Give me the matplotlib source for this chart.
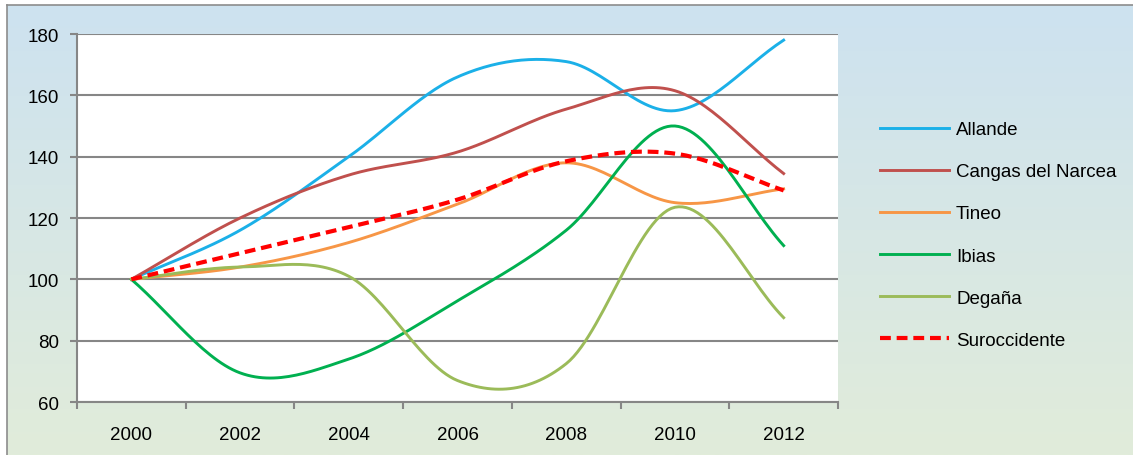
import numpy as np
import matplotlib
matplotlib.use("Agg")
import matplotlib.pyplot as plt
from matplotlib.lines import Line2D

years = ["2000", "2002", "2004", "2006", "2008", "2010", "2012"]
allande = [100, 116, 140, 166, 171, 155, 178]
cangas = [100, 120, 134, 141.5, 155.5, 161.5, 134.5]
tineo = [100, 104, 112, 124.5, 138, 125, 129.5]
ibias = [100, 69.5, 74, 93, 116, 150, 111]
degana = [100, 104, 101, 67, 72.5, 123.5, 87.5]
suroccidente = [100, 108.5, 117, 126, 138.5, 141, 129]

series = [
    ("Allande", allande, "#1BB0E8", "-"),
    ("Cangas del Narcea", cangas, "#C0504D", "-"),
    ("Tineo", tineo, "#F79646", "-"),
    ("Ibias", ibias, "#00B050", "-"),
    ("Degaña", degana, "#9BBB59", "-"),
    ("Suroccidente", suroccidente, "#FF0000", "--"),
]

def smooth(x, y, n=30):
    # Catmull-Rom style smoothing (like Excel's smoothed line)
    x = np.asarray(x, float); y = np.asarray(y, float)
    px = np.concatenate([[2*x[0]-x[1]], x, [2*x[-1]-x[-2]]])
    py = np.concatenate([[2*y[0]-y[1]], y, [2*y[-1]-y[-2]]])
    xs, ys = [], []
    t = np.linspace(0, 1, n)
    for i in range(1, len(px) - 2):
        p0, p1, p2, p3 = [np.array([px[j], py[j]]) for j in (i-1, i, i+1, i+2)]
        c1 = p1 + (p2 - p0) / 6.0
        c2 = p2 - (p3 - p1) / 6.0
        pts = ((1-t)**3)[:, None]*p1 + (3*(1-t)**2*t)[:, None]*c1 + (3*(1-t)*t**2)[:, None]*c2 + (t**3)[:, None]*p2
        xs.extend(pts[:, 0]); ys.extend(pts[:, 1])
    return np.array(xs), np.array(ys)

plt.rcParams['font.family'] = ['Liberation Sans', 'DejaVu Sans']

W, H = 1133, 456
fig = plt.figure(figsize=(W/100, H/100), dpi=100)

# background gradient panel with border
bg = fig.add_axes([7/W, 0, 1 - 7/W, 1 - 6/H])
grad = np.linspace(0, 1, 256)[:, None]
top = np.array([0xCD, 0xE2, 0xF0]) / 255
bot = np.array([0xE1, 0xEC, 0xDA]) / 255
img = top[None, None, :] * (1 - grad[:, :, None]) + bot[None, None, :] * grad[:, :, None]
bg.imshow(img, aspect='auto', extent=[0, 1, 0, 1])
bg.set_xlim(0, 1); bg.set_ylim(0, 1)
bg.set_xticks([]); bg.set_yticks([])
for s in ("top", "left"):
    bg.spines[s].set_color("#8C8C8C"); bg.spines[s].set_linewidth(1.2)
for s in ("bottom", "right"):
    bg.spines[s].set_visible(False)

ax = fig.add_axes([77/W, 1 - 403/H, (838-77)/W, (403-35)/H])
ax.set_facecolor("white")
xpos = np.arange(len(years))
for name, vals, color, ls in series:
    sx, sy = smooth(xpos, vals)
    if ls == "--":
        ax.plot(sx, sy, color=color, lw=3.0, dashes=(2.6, 1.4), label=name, solid_capstyle='butt')
    else:
        ax.plot(sx, sy, color=color, lw=2.1, label=name)

ax.set_xlim(-0.5, len(years) - 0.5)
ax.set_ylim(60, 180)
ax.set_yticks(np.arange(60, 181, 20))
ax.set_xticks(xpos)
ax.set_xticklabels(years)
ax.set_xticks(np.arange(-0.5, len(years), 1), minor=True)
ax.tick_params(axis='x', which='major', length=0, pad=17, labelsize=13.5)
ax.tick_params(axis='x', which='minor', length=5, width=1.5, color="#868686", direction='out')
ax.tick_params(axis='y', length=5, width=1.5, color="#868686", labelsize=13.5, pad=8)
ax.grid(axis='y', color="#868686", lw=1.5)
ax.set_axisbelow(True)
for s in ("top", "right"):
    ax.spines[s].set_visible(False)
for s in ("left", "bottom"):
    ax.spines[s].set_color("#868686"); ax.spines[s].set_linewidth(1.5)

handles = []
for name, vals, color, ls in series:
    if ls == "--":
        handles.append(Line2D([], [], color=color, lw=3.0, dashes=(2.6, 1.4), label=name))
    else:
        handles.append(Line2D([], [], color=color, lw=2.1, label=name))
fig.legend(handles=handles, loc='upper left', bbox_to_anchor=(880/W, 1 - 122/H),
           frameon=False, fontsize=13.5, handlelength=3.7, handletextpad=0.36,
           labelspacing=1.335, borderaxespad=0, borderpad=0)

fig.savefig("out.png", dpi=100)
